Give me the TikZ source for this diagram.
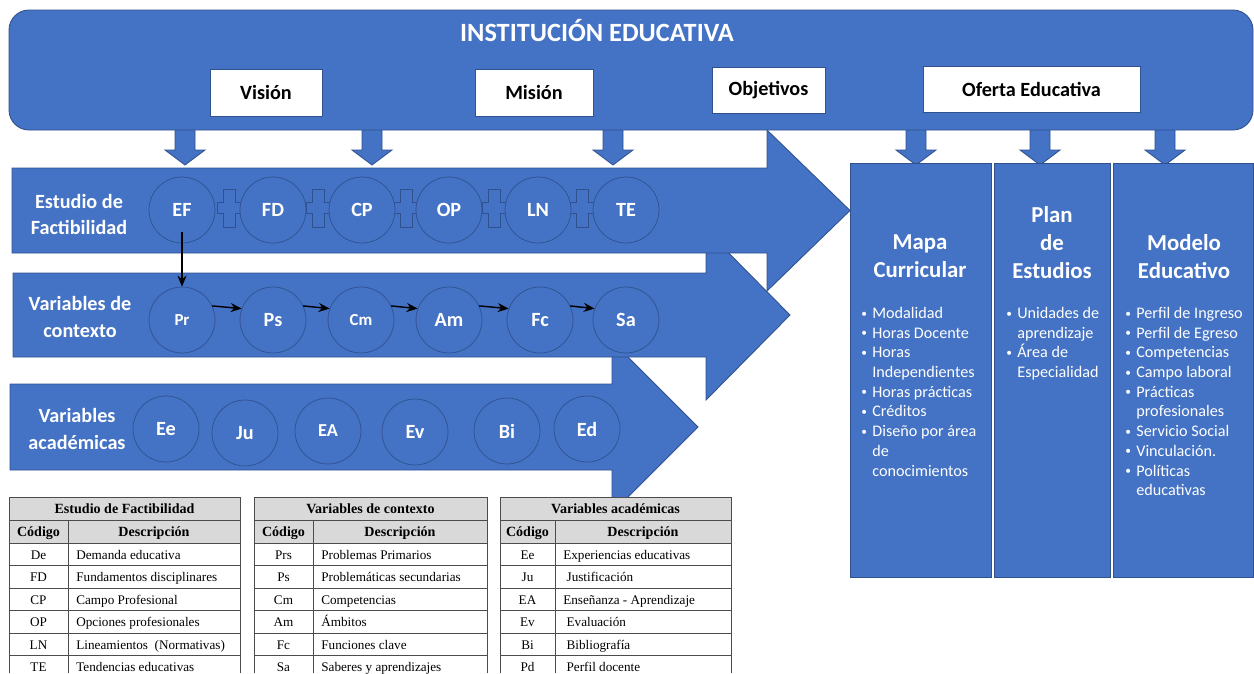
\documentclass[tikz,border=0pt]{standalone}
\usepackage{fontspec}
\setmainfont{Carlito}
\newfontfamily\tabfont{Liberation Serif}
\usepackage{tikz}
\usetikzlibrary{
  arrows.meta,
  positioning
}
\definecolor{instblue}{RGB}{68,114,196}
\definecolor{edgeblue}{RGB}{47,82,143}
\definecolor{tabgray}{RGB}{217,217,217}
\newcommand{\bul}{\makebox[2.2mm][l]{\raisebox{0.2ex}{\fontsize{6.5}{6.5}\selectfont\textbullet}}}
\newcommand{\ind}{\hspace*{2.2mm}}
% block arrow: left, body top, body bottom, head back, head top, head bottom, tip x, tip y
\newcommand{\rowarrow}[8]{%
  \filldraw[band] (#1,#2) -- (#4,#2) -- (#4,#5) -- (#7,#8) -- (#4,#6) -- (#4,#3) -- (#1,#3) -- cycle;}
\newcommand{\plussign}[2]{%
  \filldraw[band] (#1-6,#2-19) -- (#1+6,#2-19) -- (#1+6,#2-5.5) -- (#1+12,#2-5.5)
    -- (#1+12,#2+5.5) -- (#1+6,#2+5.5) -- (#1+6,#2+19) -- (#1-6,#2+19)
    -- (#1-6,#2+5.5) -- (#1-12,#2+5.5) -- (#1-12,#2-5.5) -- (#1-6,#2-5.5) -- cycle;}
% table: name, left, divider, right, title, rows
\newcommand{\codetable}[6]{%
  \fill[tabgray] (#2,497) rectangle (#4,543);
  \draw[tabline] (#2,673) -- (#2,497) -- (#4,497) -- (#4,673);
  \draw[tabline] (#2,520) -- (#4,520);
  \draw[tabline] (#2,543) -- (#4,543);
  \draw[tabline] (#3,520) -- (#3,673);
  \node[tabhead] (#1-title) at ({(#2+#4)/2},508.5) {#5};
  \node[tabhead] (#1-code)  at ({(#2+#3)/2},531.5) {Código};
  \node[tabhead] (#1-desc)  at ({(#3+#4)/2},531.5) {Descripción};
  \foreach \tcode/\tdesc [count=\i] in {#6} {
    \ifnum\i<6 \draw[tabline] (#2,543+22.5*\i) -- (#4,543+22.5*\i);\fi
    \node[tabcell] (#1-c\i) at ({(#2+#3)/2},531.75+22.5*\i) {\tcode};
    \node[tabcell,anchor=west] (#1-d\i) at (#3+8,531.75+22.5*\i) {\tdesc};
  }}

\begin{document}
\begin{tikzpicture}[x=0.02cm,y=-0.02cm,
  band/.style ={fill=instblue,draw=edgeblue,line width=0.5pt},
  wbox/.style ={draw=edgeblue,fill=white,inner sep=0pt,
                font=\bfseries\fontsize{11.5}{13}\selectfont},
  var/.style  ={circle,draw=edgeblue,fill=instblue,minimum size=1.32cm,inner sep=0pt,
                text=white,font=\bfseries\fontsize{11.5}{13}\selectfont},
  small/.style={font=\bfseries\fontsize{9.6}{11}\selectfont},
  rowlab/.style={text=white,align=center,inner sep=0pt,
                font=\bfseries\fontsize{11.5}{15.3}\selectfont},
  colt/.style ={text=white,align=center,inner sep=0pt,
                font=\bfseries\fontsize{13}{16}\selectfont},
  items/.style={text=white,align=left,inner sep=0pt,anchor=north west,
                font=\fontsize{9.2}{11.2}\selectfont},
  tabline/.style={draw=black!70,line width=0.4pt},
  tabhead/.style={inner sep=0pt,text height=1.6ex,text depth=0.4ex,
                font=\tabfont\bfseries\fontsize{8}{9}\selectfont},
  tabcell/.style={inner sep=0pt,text height=1.6ex,text depth=0.4ex,
                font=\tabfont\fontsize{7.5}{9}\selectfont},
  arr/.style  ={-{Stealth[length=2.2mm,width=1.8mm]},thick},
]
\useasboundingbox (0,0) rectangle (1254,673);

% row arrows, lowest first
\rowarrow{10}{384}{470}{612}{341}{513}{698}{427}
\rowarrow{13}{273}{357}{706}{230}{400}{790}{315}
\rowarrow{12}{168}{253}{767}{130}{291}{850}{210.5}

% arrows out of the institution
\foreach \ax in {185,372,613,916,1040,1165} {
  \filldraw[band] (\ax-10,128) -- (\ax+10,128) -- (\ax+10,150) -- (\ax+20,150)
    -- (\ax,165) -- (\ax-20,150) -- (\ax-10,150) -- cycle;
}

% institution banner
\filldraw[band,rounded corners=0.4cm] (9,10) rectangle (1253,130);
\node[text=white,font=\bfseries\fontsize{15}{17}\selectfont] (inst) at (597,31)
  {INSTITUCIÓN EDUCATIVA};
\node[wbox,minimum width=2.24cm,minimum height=0.94cm] (vision)   at (266,92.5)  {Visión};
\node[wbox,minimum width=2.36cm,minimum height=0.94cm] (mision)   at (534,92.5)  {Misión};
\node[wbox,minimum width=2.26cm,minimum height=0.92cm] (objet)    at (768.5,90)  {Objetivos};
\node[wbox,minimum width=4.34cm,minimum height=0.92cm] (oferta)   at (1031.5,89) {Oferta Educativa};

% row labels
\node[rowlab] (lab1) at (79,214.5) {Estudio de\\Factibilidad};
\node[rowlab] (lab2) at (80,317)   {Variables de\\contexto};
\node[rowlab] (lab3) at (77,429)   {Variables\\académicas};

% estudio de factibilidad
\foreach \px in {229,318,406,494,582} {\plussign{\px}{208}}
\node[var] (EF) at (182,210) {EF};
\node[var] (FD) at (273,210) {FD};
\node[var] (CP) at (362,210) {CP};
\node[var] (OP) at (449,210) {OP};
\node[var] (LN) at (538,210) {LN};
\node[var] (TE) at (626,210) {TE};

% variables de contexto
\node[var,small] (Pr) at (182,320) {Pr};
\node[var]       (Ps) at (273,320) {Ps};
\node[var,small] (Cm) at (361,320) {Cm};
\node[var]       (Am) at (449,320) {Am};
\node[var]       (Fc) at (540,320) {Fc};
\node[var]       (Sa) at (626,320) {Sa};

% variables academicas
\node[var] (Ee) at (166,429) {Ee};
\node[var] (Ju) at (245,433) {Ju};
\node[var,font=\bfseries\fontsize{10.4}{12}\selectfont] (EA) at (328,431) {EA};
\node[var] (Ev) at (415,432) {Ev};
\node[var] (Bi) at (507,431) {Bi};
\node[var] (Ed) at (587,429) {Ed};

\draw[arr] ([yshift=-0.44cm]EF.center) -- (Pr.north);
\draw[arr] (Pr.25) -- (Ps.160);
\draw[arr] (Ps.25) -- (Cm.160);
\draw[arr] (Cm.25) -- (Am.160);
\draw[arr] (Am.25) -- (Fc.160);
\draw[arr] (Fc.25) -- (Sa.160);

% oferta educativa columns
\filldraw[band] (850,163) rectangle (991,577);
\filldraw[band] (994,163) rectangle (1110,577);
\filldraw[band] (1113,163) rectangle (1253,577);
\node[colt] (mapa)   at (920,256)    {Mapa\\Curricular};
\node[colt] (plan)   at (1052,242.5) {Plan\\de\\Estudios};
\node[colt] (modelo) at (1184,256.5) {Modelo\\Educativo};
\node[items] (mapalist) at (861,307) {\bul Modalidad\\ \bul Horas Docente\\ \bul Horas\\
  \ind Independientes\\ \bul Horas prácticas\\ \bul Créditos\\ \bul Diseño por área\\
  \ind de\\ \ind conocimientos};
\node[items] (planlist) at (1006,307) {\bul Unidades de\\ \ind aprendizaje\\
  \bul Área de\\ \ind Especialidad};
\node[items] (modlist) at (1125,307) {\bul Perfil de Ingreso\\ \bul Perfil de Egreso\\
  \bul Competencias\\ \bul Campo laboral\\ \bul Prácticas\\ \ind profesionales\\
  \bul Servicio Social\\ \bul Vinculación.\\ \bul Políticas\\ \ind educativas};

% code tables
\codetable{tabEF}{9}{68}{240}{Estudio de Factibilidad}{De/Demanda educativa,
  FD/Fundamentos disciplinares,CP/Campo Profesional,OP/Opciones profesionales,
  LN/Lineamientos~~(Normativas),TE/Tendencias educativas}
\codetable{tabVC}{254}{313}{487}{Variables de contexto}{Prs/Problemas Primarios,
  Ps/Problemáticas secundarias,Cm/Competencias,Am/Ámbitos,Fc/Funciones clave,
  Sa/Saberes y aprendizajes}
\codetable{tabVA}{500}{555}{731}{Variables académicas}{Ee/Experiencias educativas,
  Ju/\ Justificación,EA/Enseñanza - Aprendizaje,Ev/\ Evaluación,Bi/\ Bibliografía,
  Pd/\ Perfil docente}
\end{tikzpicture}
\end{document}
